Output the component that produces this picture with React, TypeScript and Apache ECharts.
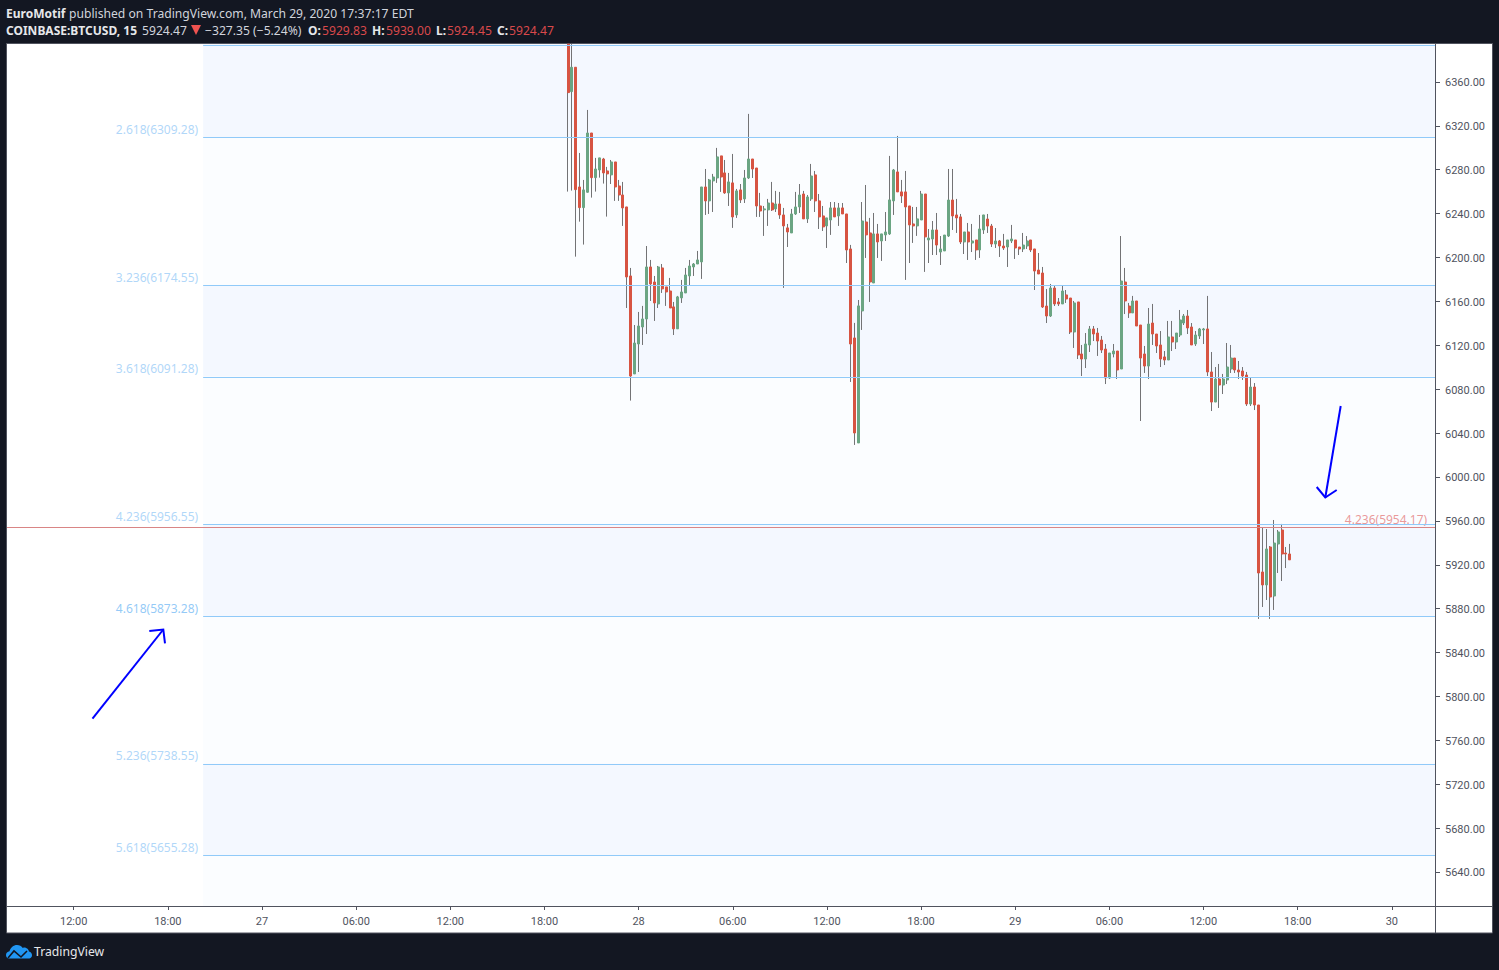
import React, { useEffect, useRef } from "react";
import * as echarts from "echarts";

const FONT = "Roboto, 'Noto Sans', sans-serif";
const HEADER_FONT = "'Noto Sans', sans-serif";

const tickNames = ["12:00","18:00","27","06:00","12:00","18:00","28","06:00","12:00","18:00","29","06:00","12:00","18:00","30"];
const priceTicks = [6360,6320,6280,6240,6200,6160,6120,6080,6040,6000,5960,5920,5880,5840,5800,5760,5720,5680,5640];

const fibLevels = [6309.28, 6174.55, 6091.28, 5956.55, 5873.28, 5738.55, 5655.28];
const fibNames = ["2.618","3.236","3.618","4.236","4.618","5.236","5.618"];
const fibTopLevel = 6393.4;
const redLevel = 5954.17;

const opens = [6394.5,6351.2,6373.4,6264.3,6245.5,6259.5,6313.5,6272.8,6279.8,6289.8,6278.9,6275.3,6287.1,6265.2,6257,6246.1,6183.2,6093.9,6121.2,6136.7,6144,6191.4,6177.7,6157.7,6190.5,6173.2,6169.5,6155,6135,6163.2,6167.7,6183.2,6191.4,6194.1,6196,6264.3,6251.6,6269.8,6272.5,6292.6,6277.1,6258.9,6268,6238.8,6261.6,6253.4,
6272.5,6289.8,6281.6,6247,6243.4,6243.4,6249.7,6244.3,6248.8,6238.8,6227,6222.4,6239.7,6246.1,6257.9,6235.2,6253.4,6275.3,6251.6,6237.9,6228.8,6234.2,6245.2,6237.9,6245.2,6239.7,6207.8,6126.7,6031,6151.3,6232.4,6222.4,6176.8,6221.5,6215.1,6220.6,6221.5,6251.6,6278,6259.8,6259.8,6247,6230.6,6228.8,6234.2,6257.9,6216,
6216.9,6225.1,6205,6206,6219.6,6252.4,6238.8,6237,6214.2,6223.3,6213.2,6216,6206.9,6225.1,6235.1,6228.7,6212.3,6215.1,6210.5,6209.6,6215.1,6216,6209.6,6207.8,6210.5,6216,6207.8,6188.6,6185.9,6155.8,6146.7,6172.2,6159.5,6157.7,6165.9,6163.1,6132.1,6159.5,6112.1,6107.5,6120.3,6134.9,6131.2,6124.8,6116.6,6090.2,6112.1,
6114.8,6098.4,6177.7,6155.8,6149.5,6160.4,6138.5,6112.1,6101.1,6140.3,6130.3,6120.3,6109.4,6106.6,6127.6,6123,6129.4,6140.3,6146.7,6136.7,6121.2,6128.5,6134,6134.9,6095.7,6068.3,6089.3,6083.8,6088.4,6098.4,6108.4,6097.5,6096.6,6092.9,6066.5,6082,6065.6,5913.4,5901.6,5936.2,5891.5,5938.9,5951.7,5930.7,5929.83];

const closes = [6350.3,6373.4,6261.9,6245.5,6261.6,6313.5,6272.8,6280.7,6290.8,6277.1,6276.2,6287.1,6264.3,6257,6245.2,6182.3,6092,6122.1,6137.6,6144,6191.4,6175.9,6158.6,6191.4,6171.4,6168.6,6154,6135,6164.1,6168.6,6184.1,6192.3,6194.1,6197.8,6264.3,6251.6,6270.7,6273.4,6291.7,6273.4,6258.9,6268.9,6237,6260.7,6252.5,6272.5,
6289.8,6280.7,6247,6242.4,6244.3,6249.7,6243.4,6248.8,6238.8,6228.8,6223.3,6239.7,6246.1,6257,6235.2,6255.2,6274.3,6251.6,6237,6227.9,6236.1,6245.2,6237,6245.2,6239.7,6206.9,6121.2,6040.1,6155.9,6233.3,6220.6,6177.7,6221.5,6214.2,6221.5,6223.3,6252.5,6279.8,6259.8,6256.1,6246.1,6229.7,6228.8,6235.2,6257.9,6218.8,6217.8,
6225.1,6211.4,6207.8,6220.5,6252.4,6237.9,6236.1,6214.2,6223.3,6214.2,6215.1,6206.9,6226,6238.8,6228.7,6212.3,6215.1,6210.5,6208.7,6216,6216.9,6208.7,6207.8,6211.4,6215.1,6206.9,6187.7,6185,6154.9,6146.7,6172.2,6157.7,6157.7,6169.5,6162.2,6132.1,6158.6,6111.2,6107.5,6121.2,6134.9,6130.3,6123.9,6115.7,6090.2,6113,6114.8,
6097.5,6178.6,6160.4,6149.5,6160.4,6137.6,6108.4,6101.1,6139.4,6130.3,6119.4,6107.5,6106.6,6127.6,6123,6131.2,6143.1,6146.7,6135.8,6120.3,6129.4,6134.9,6134.9,6095.7,6068.3,6089.3,6083.8,6089.3,6100.2,6108.4,6097.5,6095.7,6092,6066.5,6082,6065.6,5912.5,5901.6,5934.4,5890.6,5939.8,5949.9,5929.8,5929.8,5924.47];

const lows = [6260.1,6261,6200.8,6232.7,6211.8,6259.2,6254.6,6260.1,6272.8,6267.4,6237.3,6267,6251.6,6251.6,6228.8,6154,6069.6,6093.9,6095.7,6120.3,6130.3,6160.4,6142.2,6154,6167.7,6155.9,6154,6129.4,6135,6158.6,6167.7,6174.1,6183.2,6194.1,6180.5,6238.8,6239.7,6241.5,6268,6259.8,6258,6247,6227,6236.1,6249.7,6249.7,
6271.6,6272.5,6237,6237,6219.7,6228.8,6242.4,6241.5,6235.2,6172.3,6209.6,6222.4,6238.8,6240.6,6235.2,6231.5,6251.6,6241.5,6226,6224.2,6208.7,6220.6,6237,6228.8,6239.7,6195,6086.6,6029.2,6031,6134,6199.6,6159.5,6176.8,6199.6,6196.9,6215.1,6220.6,6238.8,6259.8,6249.7,6179.6,6195,6213.3,6219.7,6234.2,6186.9,6195,
6202.3,6202.3,6193.2,6206,6218.7,6225.1,6222.4,6212.3,6203.2,6197.8,6205,6197.8,6199.6,6221.5,6222.4,6209.6,6208.7,6200.5,6206.9,6191.4,6213.2,6198.7,6202.3,6205,6207.8,6205,6170.4,6185,6154,6140.3,6145.8,6155.8,6155.8,6157.7,6158.6,6130.3,6117.6,6107.5,6092,6099.3,6113.9,6123.9,6110.3,6113,6084.7,6089.3,6109,
6089.3,6098.4,6148.5,6144.9,6149.5,6137.6,6051,6094.8,6089.3,6120.3,6113,6100.2,6102,6106.6,6114.8,6116.6,6127.6,6138.5,6130.3,6120.3,6119.4,6125.8,6121.2,6092,6060.1,6068.3,6062.9,6075.6,6084.7,6094.8,6094.8,6089.3,6088.4,6064.7,6064.7,6061,5870.6,5881.5,5887.9,5870.6,5878.8,5912.5,5905.2,5917,5924.45];

const highs = [6394.5,6394.5,6373.4,6295.3,6270.7,6334.5,6313.5,6290.8,6290.8,6290.8,6282.6,6288.9,6287.1,6270.7,6268.9,6246.1,6190.5,6138.5,6150.4,6155.9,6210.5,6197.8,6183.2,6192.3,6194.1,6173.2,6181.4,6159.5,6165,6179.6,6190.5,6197.8,6195,6206,6264.3,6280.7,6271.6,6276.2,6299.9,6292.6,6288.9,6277.1,6294.4,6262.5,6267,6279.8,
6330.9,6289.8,6281.6,6258.9,6247,6253.4,6268.9,6260.7,6259.8,6245.2,6230.6,6244.3,6259.8,6267,6260.7,6257,6285.3,6278.9,6257.9,6247,6236.1,6250.6,6250.6,6249.7,6249.7,6239.7,6211.5,6140.4,6161.3,6250.6,6266.1,6236.1,6240.6,6230.6,6221.5,6241.5,6292.6,6280.7,6310.8,6270.7,6278.9,6247,6246.1,6246.1,6260.7,6257.9,6226,
6233.3,6240.6,6219.6,6220.5,6280.7,6280.7,6253.4,6239.7,6223.3,6231.5,6230.6,6216,6238.8,6238.8,6239.7,6230.6,6226.9,6216,6221.5,6216,6229.7,6216,6209.6,6222.4,6219.6,6216,6207.8,6204.1,6191.4,6171.3,6175.9,6174.1,6163.1,6174.1,6170.4,6163.1,6160.4,6159.5,6120.3,6131.2,6137.6,6137.6,6135.8,6128.5,6121.2,6113,6121.2,
6114.8,6219.6,6190.5,6158.6,6165,6160.4,6138.5,6119.4,6154,6157.7,6130.3,6133,6114.8,6142.2,6142.2,6131.2,6152.2,6148.5,6152.2,6140.3,6133,6135.8,6135.8,6165,6113.9,6100.2,6103,6093.9,6122.1,6120.3,6108.4,6105.7,6100.2,6095.7,6090.2,6085.6,6065.6,5953.5,5952.6,5937.1,5960.8,5951.7,5957.2,5936.2,5939];

const SLOT_COUNT = 365;
const FIRST_LABEL_SLOT = 17;
const FIRST_CANDLE_SLOT = 143;
const FIB_START_SLOT = 50;
const SLOTS_PER_LABEL = 24;

const UP = "#6ba583";
const DOWN = "#d75442";
const WICK = "#737375";
const AXIS = "#50535e";
const LINE = "#90caf9";
const LABEL = "#9ccdf7";
const BAND_A = "#f4f8ff";
const BAND_B = "#fbfdff";
const DARK = "#131722";
const HEAD_RED = "#d9494b";

echarts.graphic.registerShape(
  "tvcloud",
  echarts.graphic.extendPath(
    "M2.5 14 C0.5 13.5 0 11.5 0 10.5 C0 8.5 1.5 7 3.5 6.8 C4.5 3 7.5 0.5 11 0.5 C13.5 0.5 15.5 1.7 16.8 3.5 C18 3 19 3 20 3.4 C21.8 4 22.8 5.5 23 7 C25 7.5 26 9 26 10.8 C26 12.5 25 13.5 23.5 14 Z",
    {}
  )
);

const categories = Array.from({ length: SLOT_COUNT }, (_, i) => String(i));
const labelOfSlot = (slot: number) => {
  const k = (slot - FIRST_LABEL_SLOT) / SLOTS_PER_LABEL;
  return Number.isInteger(k) && k >= 0 && k < tickNames.length ? tickNames[k] : "";
};

function headerText(text: string, x: number, y: number, fill: string, bold = false) {
  return {
    type: "text",
    x,
    y,
    z: 20,
    silent: true,
    style: {
      text,
      fill,
      fontFamily: HEADER_FONT,
      fontSize: bold ? 12 : 12.15,
      fontWeight: bold ? 700 : 400,
      textAlign: "left",
      textVerticalAlign: "middle",
    },
  };
}

function stroke(type: string, shape: any, color: string, lineWidth: number, z = 20) {
  return { type, shape, z, silent: true, style: { stroke: color, lineWidth, fill: "none" } };
}

export default function App() {
  const ref = useRef<HTMLDivElement>(null);

  useEffect(() => {
    document.body.style.margin = "0";
    document.body.style.background = DARK;
    const chart = echarts.init(ref.current!, null, { renderer: "svg" });

    const wickData = opens.map((o, i) => [FIRST_CANDLE_SLOT + i, o, closes[i], lows[i], highs[i]]);
    const bodyData = opens.map((o, i) => [
      FIRST_CANDLE_SLOT + i,
      o,
      closes[i],
      Math.min(o, closes[i]),
      Math.max(o, closes[i]),
    ]);

    const yMax = 6394.6;
    const yMin = 5609;
    const allBands = [yMax, ...fibLevels, yMin];
    const areas = allBands.slice(0, -1).map((top, i) => [
      {
        xAxis: FIB_START_SLOT,
        yAxis: top,
        itemStyle: { color: i % 2 === 0 ? BAND_A : BAND_B },
      },
      { xAxis: SLOT_COUNT - 1, yAxis: allBands[i + 1] },
    ]);

    const fibLines = [fibTopLevel, ...fibLevels].map((v) => [
      { xAxis: FIB_START_SLOT, yAxis: v },
      { xAxis: SLOT_COUNT - 1, yAxis: v },
    ]);

    const option: any = {
      animation: false,
      backgroundColor: DARK,
      grid: { left: 7, top: 44, width: 1428, height: 862, containLabel: false },
      xAxis: {
        type: "category",
        data: categories,
        boundaryGap: false,
        axisLine: { show: false },
        axisTick: {
          show: true,
          length: 4,
          lineStyle: { color: AXIS },
          interval: (i: number) => labelOfSlot(i) !== "",
        },
        axisLabel: {
          color: AXIS,
          fontFamily: FONT,
          fontSize: 11,
          margin: 10,
          interval: (i: number) => labelOfSlot(i) !== "",
          formatter: (v: string) => labelOfSlot(Number(v)),
        },
        splitLine: { show: false },
      },
      yAxis: {
        type: "value",
        position: "right",
        min: yMin,
        max: yMax,
        scale: true,
        axisLine: { show: false },
        axisTick: {
          show: true,
          length: 5,
          lineStyle: { color: AXIS },
          customValues: priceTicks,
        },
        axisLabel: {
          color: AXIS,
          fontFamily: FONT,
          fontSize: 11,
          margin: 10,
          customValues: priceTicks,
          formatter: (v: number) => `{v|${v.toFixed(2)}}`,
          rich: {
            v: { color: AXIS, fontFamily: FONT, fontSize: 11, padding: [2, 0, 0, 0] },
          },
        },
        splitLine: { show: false },
      },
      series: [
        {
          type: "scatter",
          z: 1,
          symbolSize: 0,
          silent: true,
          data: fibLevels.map((v, i) => ({
            value: [FIB_START_SLOT, v],
            label: {
              show: true,
              position: "left",
              distance: 5,
              offset: [0, -8],
              formatter: `${fibNames[i]}(${v.toFixed(2)})`,
              color: fibNames[i] === "4.618" ? "#78bcf5" : LABEL,
              fontFamily: HEADER_FONT,
              fontSize: 12,
            },
          })),
          markArea: { silent: true, data: areas },
          markLine: {
            silent: true,
            symbol: "none",
            label: { show: false },
            lineStyle: { color: LINE, width: 1, type: "solid" },
            data: [
              ...fibLines,
              [
                { xAxis: 0, yAxis: redLevel, lineStyle: { color: "#d98585", width: 1, type: "solid" } },
                { xAxis: SLOT_COUNT - 1, yAxis: redLevel },
              ],
            ],
          },
        },
        {
          type: "scatter",
          z: 1,
          symbolSize: 0,
          silent: true,
          data: [
            {
              value: [SLOT_COUNT - 3, redLevel],
              label: {
                show: true,
                position: "left",
                distance: 0,
                offset: [0, -8],
                formatter: `4.236(${redLevel.toFixed(2)})`,
                color: "#e57f7f",
                fontFamily: HEADER_FONT,
                fontSize: 12,
              },
            },
          ],
        },
        {
          type: "candlestick",
          z: 3,
          silent: true,
          barWidth: 1,
          encode: { x: 0, y: [1, 2, 3, 4] },
          itemStyle: { color: WICK, color0: WICK, borderColor: WICK, borderColor0: WICK, borderWidth: 1 },
          data: wickData,
        },
        {
          type: "candlestick",
          z: 4,
          silent: true,
          barWidth: 2.5,
          encode: { x: 0, y: [1, 2, 3, 4] },
          itemStyle: { color: UP, color0: DOWN, borderColor: UP, borderColor0: DOWN, borderWidth: 1 },
          data: bodyData,
        },
      ],
      graphic: [
        {
          type: "rect",
          z: -1,
          silent: true,
          shape: { x: 6.5, y: 43.5, width: 1486, height: 889.5 },
          style: { fill: "#ffffff", stroke: AXIS, lineWidth: 1 },
        },
        stroke("line", { x1: 1435.5, y1: 43, x2: 1435.5, y2: 933 }, AXIS, 1),
        stroke("line", { x1: 7, y1: 906.5, x2: 1493, y2: 906.5 }, AXIS, 1),
        // hand-drawn arrows
        stroke("line", { x1: 92.5, y1: 718.7, x2: 163.3, y2: 629.5 }, "#0000ff", 2),
        stroke("polyline", { points: [[149.3, 631], [163.3, 629.5], [165, 643.3]] }, "#0000ff", 2),
        stroke("line", { x1: 1340.7, y1: 406, x2: 1325.3, y2: 497.5 }, "#0000ff", 2),
        stroke("polyline", { points: [[1316.7, 487], [1325.3, 497.5], [1336.7, 490]] }, "#0000ff", 2),
        // header
        headerText("EuroMotif", 6, 13, "#e6e7ea", true),
        headerText("published on TradingView.com, March 29, 2020 17:37:17 EDT", 69, 13, "#d1d4dc"),
        headerText("COINBASE:BTCUSD, 15", 6, 30, "#e6e7ea", true),
        headerText("5924.47", 142, 30, "#d1d4dc"),
        {
          type: "polygon",
          z: 20,
          silent: true,
          shape: { points: [[191, 25], [201, 25], [196, 35]] },
          style: { fill: "#ef5350" },
        },
        headerText("\u2212327.35 (\u22125.24%)", 205, 30, "#d1d4dc"),
        headerText("O:", 308, 30, "#e6e7ea", true),
        headerText("5929.83", 322, 30, HEAD_RED),
        headerText("H:", 372, 30, "#e6e7ea", true),
        headerText("5939.00", 386, 30, HEAD_RED),
        headerText("L:", 436, 30, "#e6e7ea", true),
        headerText("5924.45", 447, 30, HEAD_RED),
        headerText("C:", 497, 30, "#e6e7ea", true),
        headerText("5924.47", 509, 30, HEAD_RED),
        // footer logo
        { type: "tvcloud", x: 6, y: 944.5, z: 20, silent: true, style: { fill: "#2196f3" } },
        stroke("polyline", { points: [[8, 958], [14, 951], [21, 957], [27, 951]] }, DARK, 1.6, 21),
        {
          type: "text",
          x: 34,
          y: 951.5,
          z: 20,
          silent: true,
          style: {
            text: "TradingView",
            fill: "#e6e7ea",
            fontFamily: HEADER_FONT,
            fontSize: 12.2,
            textAlign: "left",
            textVerticalAlign: "middle",
          },
        },
      ],
    };

    chart.setOption(option);
    return () => chart.dispose();
  }, []);

  return (
    <div
      ref={ref}
      style={{ position: "fixed", left: 0, top: 0, width: 1499, height: 970 }}
    />
  );
}
